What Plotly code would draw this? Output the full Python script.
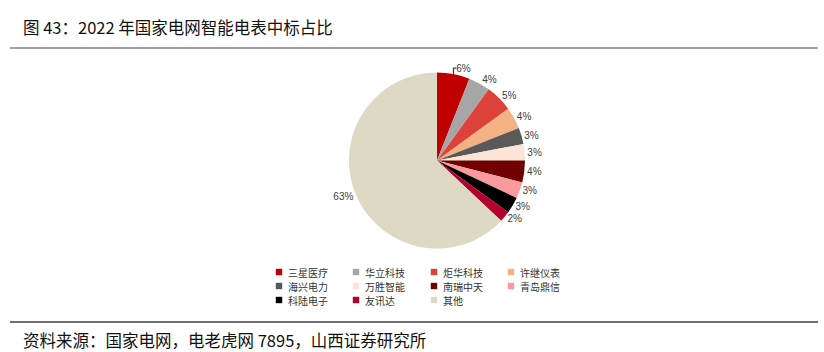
import plotly.graph_objects as go

companies = ["三星医疗", "华立科技", "炬华科技", "许继仪表", "海兴电力", "万胜智能",
             "南瑞中天", "青岛鼎信", "科陆电子", "友讯达", "其他"]
shares = [6, 4, 5, 4, 3, 3, 4, 3, 3, 2, 63]
colors = ["#C00000", "#A6A6A6", "#DE4139", "#F4B183", "#595959", "#FCE4D6",
          "#700000", "#F99B9E", "#000000", "#B5002F", "#DDD9C4"]
title_text = "图 43：2022 年国家电网智能电表中标占比"
source_text = "资料来源：国家电网，电老虎网 7895，山西证券研究所"

W, H = 824, 352


def px(x):
    return x / W


def py(y):
    return 1 - y / H


fig = go.Figure(go.Pie(
    labels=companies,
    values=shares,
    marker=dict(colors=colors, line=dict(width=0)),
    sort=False,
    direction="clockwise",
    rotation=0,
    textposition="outside",
    texttemplate="%{value}%",
    textfont=dict(family="Arial, Liberation Sans", size=10, color="#404040"),
    domain=dict(x=[px(349), px(525)], y=[py(249), py(72)]),
    hoverinfo="label+percent",
    showlegend=False,
))

shapes = [
    dict(type="line", xref="paper", yref="paper", x0=px(10), x1=px(818),
         y0=py(48), y1=py(48), line=dict(color="#7F7F7F", width=1.5)),
    dict(type="line", xref="paper", yref="paper", x0=px(10), x1=px(818),
         y0=py(322), y1=py(322), line=dict(color="#404040", width=1.5)),
]
annotations = [
    dict(text=title_text, xref="paper", yref="paper", x=px(21), y=py(27),
         xanchor="left", yanchor="middle", showarrow=False,
         font=dict(family="Noto Sans CJK SC", size=16.5, color="#111111")),
    dict(text=source_text, xref="paper", yref="paper", x=px(21), y=py(340),
         xanchor="left", yanchor="middle", showarrow=False,
         font=dict(family="Noto Sans CJK SC", size=16.5, color="#111111")),
]

# legend: 4 columns, rows wrap
col_x = [279, 356, 434, 511]
row_y = [272, 286, 300]
sq = 3.2
for i, (name, col) in enumerate(zip(companies, colors)):
    cx = col_x[i % 4]
    cy = row_y[i // 4]
    shapes.append(dict(type="rect", xref="paper", yref="paper",
                       x0=px(cx - sq), x1=px(cx + sq), y0=py(cy + sq), y1=py(cy - sq),
                       fillcolor=col, line=dict(width=0)))
    annotations.append(dict(text=name, xref="paper", yref="paper",
                            x=px(cx + 8), y=py(cy), xanchor="left", yanchor="middle",
                            showarrow=False, borderpad=0,
                            font=dict(family="Noto Sans CJK SC", size=10, color="#333333")))

fig.update_layout(
    width=W, height=H,
    margin=dict(l=0, r=0, t=0, b=0),
    paper_bgcolor="white", plot_bgcolor="white",
    showlegend=False,
    shapes=shapes,
    annotations=annotations,
)

fig.write_html("out.html")
